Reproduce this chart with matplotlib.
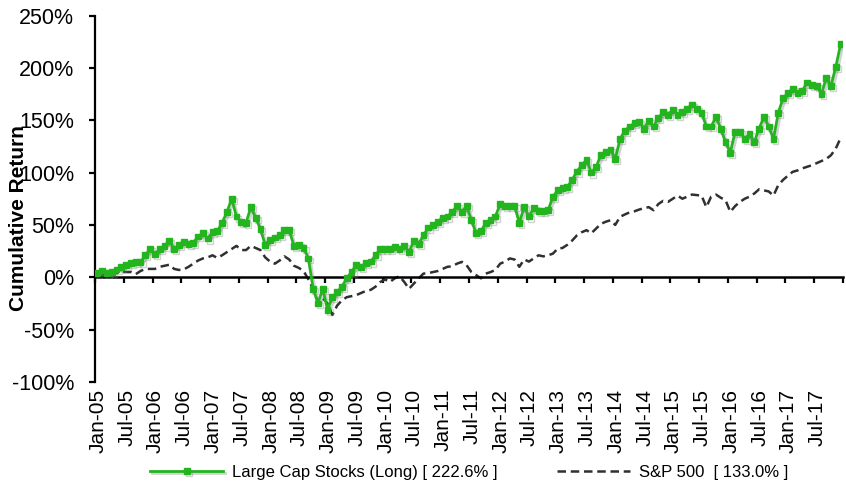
import numpy as np
import matplotlib
matplotlib.use('Agg')
import matplotlib.pyplot as plt
import matplotlib.patheffects as pe
from matplotlib.transforms import ScaledTranslation

plt.rcParams['font.family'] = ['Liberation Sans', 'DejaVu Sans']

# monthly cumulative return (%), Jan-05 .. Dec-17
large_cap = [4, 6.5, 4, 5, 7.5, 9.5, 11.5, 13.5, 14.5, 14.5, 21, 27,          # 2005
             22, 27, 30, 35, 27, 31, 34, 32, 33, 39, 42, 37,                  # 2006
             43, 44, 52, 62, 75, 58, 53, 52, 67, 57, 46, 31,                  # 2007
             36, 38, 40, 45, 45, 30, 31, 28, 18, -11, -25, -11,               # 2008
             -31, -19, -14, -9, -1, 5, 12, 10, 14, 15, 21, 27,                # 2009
             27, 27, 29, 27, 30, 24, 35, 32, 40, 47.5, 50, 53,                # 2010
             57, 58, 62.5, 68, 62.5, 68, 54.5, 42, 44, 52, 55, 58,            # 2011
             70, 68, 68, 68, 52, 67, 58, 66, 63, 63, 64, 77,                  # 2012
             83, 85, 86, 93, 101, 107, 112, 100, 105, 117, 120, 122,          # 2013
             113, 132, 140, 144, 147, 148.5, 142, 149.5, 144, 152, 158, 155,  # 2014
             160, 155, 158, 161, 165, 161, 157, 144, 144, 153, 142, 129,      # 2015
             119, 139, 139, 132, 137, 129, 142, 153, 144, 132, 157, 171,      # 2016
             176, 180, 175.6, 178, 186, 183.5, 183, 175, 190, 183, 201, 222.6]  # 2017

sp500 = [0, 2, 3, 3, 4, 5, 5, 5, 3, 6, 8, 8,
         8, 10, 11, 12, 8, 7, 7.5, 10, 13, 16, 18, 19,
         21, 18.5, 21, 24, 27, 30, 26, 26, 30, 28, 26, 19,
         15, 13, 16, 20, 17, 11, 9, 6, -2, -11, -24, -20,
         -25, -36, -27, -22, -19, -18, -17, -15, -13, -12, -9, -4.5,
         -2, -4.5, -1, 1, -4.5, -11, -6, -1, 3.5, 4, 5, 6,
         8, 10, 10.5, 13, 14.7, 11.5, 5, 2, -1, 3.5, 5, 7,
         13, 15, 18, 17, 10, 17, 15, 18, 21, 20, 21, 22.6,
         27.4, 28, 31, 35, 40, 43, 45, 42, 46.5, 51, 53, 54.5,
         50, 57.7, 60, 62, 63, 64.7, 66, 67, 64, 70, 73, 72,
         75, 78, 75, 77, 79, 78.5, 78, 67, 77, 79, 76, 73.6,
         62.5, 68, 72, 75, 77, 80, 84, 83, 82, 78, 88, 93,
         97, 100.7, 102, 104, 105.5, 107, 109, 111, 113, 116.6, 123, 133]

xtick_labels = ['Jan-05', 'Jul-05', 'Jan-06', 'Jul-06', 'Jan-07', 'Jul-07',
                'Jan-08', 'Jul-08', 'Jan-09', 'Jul-09', 'Jan-10', 'Jul-10',
                'Jan-11', 'Jul-11', 'Jan-12', 'Jul-12', 'Jan-13', 'Jul-13',
                'Jan-14', 'Jul-14', 'Jan-15', 'Jul-15', 'Jan-16', 'Jul-16',
                'Jan-17', 'Jul-17', '']

green = '#22b51e'
months = np.arange(len(large_cap)) + 0.5

fig = plt.figure(figsize=(8.46, 4.87), dpi=100)
ax = fig.add_axes([95/846, 1 - 382/487, 748/846, 366.5/487])

l1, = ax.plot(months, large_cap, color=green, lw=2.0, marker='s', ms=4.2,
              mec=green, mfc=green, zorder=3,
              path_effects=[pe.SimpleLineShadow(offset=(1.5, -1.5), shadow_color='gray', alpha=0.35),
                            pe.Normal()])
l2, = ax.plot(months, sp500, color='#303030', lw=1.8, ls=(0, (3.4, 1.9)), zorder=2)

ax.set_xlim(0, 156)
ax.set_ylim(-100, 250)
yt = np.arange(-100, 251, 50)
ax.set_yticks(yt)
ax.set_yticklabels(['%d%%' % v for v in yt], fontsize=15.5)

for s in ['top', 'right']:
    ax.spines[s].set_visible(False)
ax.spines['left'].set_linewidth(1.6)
ax.spines['bottom'].set_position(('data', 0))
ax.spines['bottom'].set_linewidth(1.8)
ax.set_xticks(np.arange(0, 157, 6))
ax.tick_params(axis='x', direction='out', length=4, width=1.6, labelbottom=False)
ax.tick_params(axis='y', direction='out', length=4, width=1.6, pad=11)

sec = ax.secondary_xaxis('bottom')
sec.set_xticks(np.arange(0, 157, 6), xtick_labels, rotation=90, fontsize=15)
sec.tick_params(length=0, pad=5)
sec.spines['bottom'].set_visible(False)
for lbl in sec.get_xticklabels():
    lbl.set_transform(lbl.get_transform() + ScaledTranslation(3/100, 0, fig.dpi_scale_trans))

fig.text(18/846, 1 - 218/487, 'Cumulative Return', rotation=90, ha='center', va='center',
         fontsize=15, fontweight='bold')

fig.legend([l1, l2], ['Large Cap Stocks (Long) [ 222.6% ]', 'S&P 500  [ 133.0% ]'],
           loc='center', bbox_to_anchor=(469/846, 1 - 472/487), ncol=2, frameon=False,
           fontsize=12, handlelength=4.4, handletextpad=0.5, columnspacing=3.6)

fig.savefig('out.png', dpi=100)
